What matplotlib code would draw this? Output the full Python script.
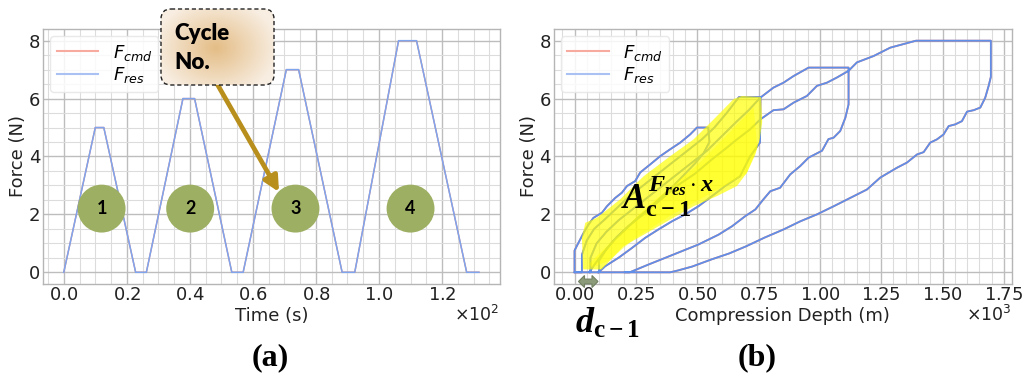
import numpy as np
import matplotlib
matplotlib.use("Agg")
import matplotlib.pyplot as plt
from matplotlib.ticker import ScalarFormatter, AutoMinorLocator
from matplotlib.patches import FancyBboxPatch, Polygon
from matplotlib.lines import Line2D
from matplotlib.colors import to_rgb

plt.rcParams['font.family'] = ['DejaVu Sans']
plt.rcParams['mathtext.fontset'] = 'dejavusans'
plt.rcParams['mathtext.rm'] = 'Liberation Serif:bold'
plt.rcParams['mathtext.it'] = 'Liberation Serif:italic:bold'
plt.rcParams['mathtext.bf'] = 'Liberation Serif:bold'

# ---------------- data: (a) force vs time ----------------
time_s = [0, 10, 12.7, 22.8, 26.2, 37.8, 41.5, 53.3, 56.9, 70.6, 74.5, 88.3,
          92.3, 106.2, 111.9, 127.8, 131.7]
force_cmd_t = [0, 5, 5, 0, 0, 6, 6, 0, 0, 7, 7, 0, 0, 8, 8, 0, 0]
force_res_t = [0, 5, 5, 0, 0, 6, 6, 0, 0, 7, 7, 0, 0, 8, 8, 0, 0]

cycle_labels = ['1', '2', '3', '4']
cycle_label_t = [12.0, 40.1, 73.5, 110.0]
cycle_label_f = [2.2, 2.2, 2.2, 2.2]

# ---------------- data: (b) force vs compression depth ----------------
depth_c1 = [0, 0, 16, 37, 57, 77, 112, 132, 166, 193, 214, 247, 268, 309, 349,
            390, 431, 471, 499, 545, 550, 525, 490, 450, 405, 360, 310, 260,
            210, 160, 115, 80, 60, 0]
force_c1 = [0, 0.75, 1.02, 1.36, 1.65, 1.88, 2.06, 2.28, 2.57, 2.75, 2.98, 3.15,
            3.45, 3.73, 4.01, 4.25, 4.48, 4.76, 5.0, 5.0, 4.5, 4.1, 3.75, 3.4,
            3.0, 2.65, 2.25, 1.9, 1.5, 1.1, 0.65, 0.25, 0, 0]

depth_c2 = [0, 30, 30, 50, 80, 120, 170, 220, 280, 340, 400, 460, 520, 570, 620,
            670, 758, 756, 716, 675, 614, 560, 505, 451, 397, 342, 288, 234,
            179, 125, 98, 60]
force_c2 = [0, 0, 0.6, 1.1, 1.5, 1.8, 2.2, 2.6, 3.0, 3.4, 3.8, 4.2, 4.6, 5.0,
            5.5, 6.05, 6.05, 4.48, 4.01, 3.32, 2.98, 2.63, 2.28, 2.0, 1.76,
            1.48, 1.19, 0.84, 0.5, 0.21, 0, 0]

depth_c3 = [60, 65, 65, 90, 130, 180, 240, 300, 360, 420, 480, 540, 600, 660,
            710, 757, 811, 852, 893, 954, 1117, 1117, 1104, 1083, 1056, 1035,
            1009, 954, 920, 879, 838, 798, 770, 737, 696, 642, 587, 505, 438,
            370, 302, 234, 225, 95]
force_c3 = [0, 0, 0.5, 1.0, 1.4, 1.8, 2.2, 2.6, 3.0, 3.4, 3.8, 4.2, 4.7, 5.2,
            5.6, 6.03, 6.38, 6.55, 6.78, 7.07, 7.07, 5.8, 5.34, 4.88, 4.65, 4.6,
            4.2, 3.96, 3.67, 3.38, 2.92, 2.8, 2.52, 2.17, 1.94, 1.59, 1.3, 0.96,
            0.73, 0.5, 0.27, 0.03, 0, 0]

depth_c4 = [95, 100, 100, 130, 170, 220, 280, 350, 420, 490, 560, 620, 662, 716,
            757, 811, 852, 893, 947, 988, 1029, 1070, 1117, 1151, 1219, 1287,
            1392, 1697, 1697, 1688, 1674, 1654, 1627, 1600, 1579, 1552, 1525,
            1504, 1477, 1450, 1423, 1396, 1355, 1314, 1246, 1192, 1124, 1056,
            988, 920, 852, 775, 700, 630, 560, 480, 420, 390, 205]
force_c4 = [0, 0, 0.4, 0.8, 1.2, 1.6, 2.0, 2.5, 3.0, 3.4, 3.9, 4.3, 4.59, 4.94,
            5.28, 5.6, 5.63, 5.86, 6.09, 6.44, 6.55, 6.73, 6.96, 7.25, 7.47,
            7.76, 8.0, 8.0, 6.75, 6.44, 6.03, 5.69, 5.6, 5.55, 5.22, 5.11, 5.05,
            4.76, 4.59, 4.48, 4.15, 4.07, 3.79, 3.61, 3.27, 2.86, 2.57, 2.28,
            2.0, 1.76, 1.48, 1.2, 0.9, 0.65, 0.45, 0.2, 0.06, 0, 0]

highlight_depth = [35, 30, 44, 91, 186, 282, 390, 485, 567, 648, 682, 760, 765,
                   755, 737, 703, 662, 580, 485, 390, 295, 200, 150, 110]
highlight_force = [0.1, 1.2, 1.71, 1.88, 2.52, 3.32, 4.01, 4.59, 5.28, 5.98,
                   6.09, 6.05, 5.2, 4.6, 4.07, 3.44, 2.98, 2.63, 2.28, 1.82,
                   1.36, 0.9, 0.45, 0.1]

BLUE_A = '#7ea5ee'
BLUE_B = '#5f8fe8'
RED = '#f08070'
GRID_MAJ = '#bdbdbd'
GRID_MIN = '#dcdcdc'
TXT = '#222222'

fig = plt.figure(figsize=(10.24, 3.78), dpi=100)
axA = fig.add_axes([0.042, 0.249, 0.446, 0.674])
axB = fig.add_axes([0.5407, 0.249, 0.4473, 0.674])


def style(ax, power):
    ax.set_facecolor('white')
    for s in ax.spines.values():
        s.set_color('#b5b5b5')
        s.set_linewidth(1.0)
    ax.xaxis.set_minor_locator(AutoMinorLocator())
    ax.yaxis.set_minor_locator(AutoMinorLocator())
    ax.grid(which='major', color=GRID_MAJ, lw=1.0, zorder=0)
    ax.grid(which='minor', color=GRID_MIN, lw=0.8, zorder=0)
    ax.set_axisbelow(True)
    ax.tick_params(which='both', length=0, labelsize=13, colors=TXT)
    ax.tick_params(axis='x', pad=1.5)
    ax.tick_params(axis='y', pad=2)
    fmt = ScalarFormatter(useMathText=True)
    fmt.set_powerlimits((0, 0))
    ax.xaxis.set_major_formatter(fmt)
    ax.xaxis.get_offset_text().set_visible(False)
    ax.text(1.0, -0.12, r'$\times\mathregular{10^{%d}}$' % power, transform=ax.transAxes,
            ha='right', va='center', fontsize=12.5, color=TXT)


legend_handles = [Line2D([], [], color='#f6aaa0', lw=1.5),
                  Line2D([], [], color='#a9c2f3', lw=1.5)]
legend_labels = [r'$F_{cmd}$', r'$F_{res}$']


def add_legend(ax):
    leg = ax.legend(legend_handles, legend_labels, loc='upper left', fontsize=13,
                    framealpha=0.85, edgecolor='#e6e6e6', handlelength=2.3,
                    borderaxespad=0.4, labelspacing=0.15, borderpad=0.35,
                    handletextpad=0.8)
    leg.set_zorder(6)


# ---------- (a) ----------
style(axA, 2)
axA.plot(time_s, force_cmd_t, color=RED, lw=1.0, zorder=2)
axA.plot(time_s, force_res_t, color=BLUE_A, lw=1.1, zorder=3)
axA.set_ylim(-0.4, 8.4)
axA.set_yticks([0, 2, 4, 6, 8])
axA.set_xlabel('Time (s)', fontsize=13, labelpad=2.5, color=TXT)
axA.set_ylabel('Force (N)', fontsize=13, labelpad=1, color=TXT)
add_legend(axA)
axA.scatter(cycle_label_t, cycle_label_f, s=1190, color='#9daf62', zorder=5,
            edgecolors='none')
for lab, tx, fy in zip(cycle_labels, cycle_label_t, cycle_label_f):
    axA.text(tx, fy, lab, ha='center', va='center', fontsize=13,
             fontweight='bold', family='Lato', color='black', zorder=6)

# ---------- (b) ----------
style(axB, 3)
depth_all = depth_c1 + depth_c2 + depth_c3 + depth_c4
force_all = force_c1 + force_c2 + force_c3 + force_c4
axB.plot(depth_all, force_all, color=RED, lw=1.3, zorder=2)
axB.plot(depth_all, force_all, color=BLUE_B, lw=1.3, zorder=3)
axB.set_ylim(-0.4, 8.4)
axB.set_yticks([0, 2, 4, 6, 8])
axB.set_xticks([0, 250, 500, 750, 1000, 1250, 1500, 1750])
axB.set_xlim(-85, 1782)
axB.set_xlabel('Compression Depth (m)', fontsize=13, labelpad=2.5, color=TXT)
axB.set_ylabel('Force (N)', fontsize=13, labelpad=1, color=TXT)
add_legend(axB)

hl = Polygon(np.column_stack([highlight_depth, highlight_force]), closed=True,
             facecolor='#ffff00', edgecolor='none', alpha=0.68, zorder=4)
axB.add_patch(hl)
hl2 = Polygon(np.column_stack([[60, 300, 500, 640, 730, 745, 700, 560, 400, 250, 140, 70],
                               [0.3, 2.3, 3.7, 4.9, 5.7, 4.3, 3.4, 2.75, 2.0, 1.2, 0.4, 0.15]]),
              closed=True, facecolor='#ffff00', edgecolor='none', alpha=0.4, zorder=4)
axB.add_patch(hl2)

axB.text(190, 2.22, r'$A_{\mathrm{c}-1}^{F_{res}\cdot x}$', fontsize=25,
         math_fontfamily='custom', ha='left', va='baseline', color='black', zorder=7)

# ---------- overlay annotations (pixel coordinates) ----------
ov = fig.add_axes([0, 0, 1, 1], zorder=10)
ov.set_xlim(0, 1024)
ov.set_ylim(378, 0)
ov.axis('off')

# double-headed arrow marking d_{c-1}
ax0, ax1, ay = 578.5, 598.0, 281.5
hlen, hh, bh = 6.0, 6.0, 2.4
darrow = Polygon([(ax0, ay), (ax0 + hlen, ay - hh), (ax0 + hlen, ay - bh),
                  (ax1 - hlen, ay - bh), (ax1 - hlen, ay - hh), (ax1, ay),
                  (ax1 - hlen, ay + hh), (ax1 - hlen, ay + bh), (ax0 + hlen, ay + bh),
                  (ax0 + hlen, ay + hh)], closed=True, facecolor='#8b9b7a',
                 edgecolor='#6f7f60', lw=0.8)
ov.add_patch(darrow)

ov.text(575, 333, r'$d_{\mathrm{c}-1}$', fontsize=26,
        math_fontfamily='custom', ha='left', va='baseline', color='black')

ov.annotate('', xy=(279, 192), xytext=(216, 82),
            arrowprops=dict(arrowstyle='-|>,head_length=0.9,head_width=0.45',
                            color='#b88f1c', lw=3.4, shrinkA=0, shrinkB=0),
            zorder=1)

box = FancyBboxPatch((161, 9), 113, 76, boxstyle='round,pad=0,rounding_size=10',
                     facecolor='none', edgecolor='#222222', lw=1.0, ls=(0, (3, 2)),
                     zorder=4)
ov.add_patch(box)
gx = np.linspace(161, 274, 160)
gy = np.linspace(9, 85, 110)
GX, GY = np.meshgrid(gx, gy)
r = np.sqrt(((GX - 216) / 62.0) ** 2 + ((GY - 48) / 50.0) ** 2)
r = np.clip(r, 0, 1)
c0 = np.array(to_rgb('#e4bd86'))
c1 = np.array(to_rgb('#f8eee2'))
img = c0[None, None, :] * (1 - r[..., None]) + c1[None, None, :] * r[..., None]
im = ov.imshow(img, extent=(161, 274, 85, 9), origin='upper', zorder=2,
               interpolation='bilinear', aspect='auto')
fill = FancyBboxPatch((161, 9), 113, 76, boxstyle='round,pad=0,rounding_size=10',
                      facecolor='none', edgecolor='none', transform=ov.transData)
ov.add_patch(fill)
im.set_clip_path(fill)
ov.text(174, 40, 'Cycle', family='Lato', fontweight='heavy', fontsize=16,
        ha='left', va='baseline', color='black', zorder=5)
ov.text(174, 69, 'No.', family='Lato', fontweight='heavy', fontsize=16,
        ha='left', va='baseline', color='black', zorder=5)
ov.set_xlim(0, 1024)
ov.set_ylim(378, 0)

ov.text(270, 358, '(a)', family='Liberation Serif', fontweight='bold', fontsize=23,
        ha='center', va='center', color='black')
ov.text(757, 358, '(b)', family='Liberation Serif', fontweight='bold', fontsize=23,
        ha='center', va='center', color='black')

fig.savefig('out.png', dpi=100)
